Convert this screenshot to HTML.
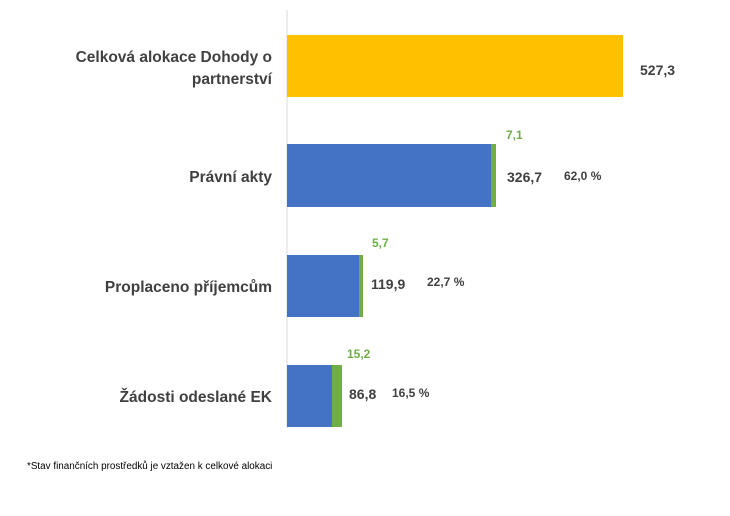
<!DOCTYPE html>
<html><head><meta charset="utf-8"><style>body{margin:0;background:#fff}</style></head><body>
<svg width="730" height="511" xmlns="http://www.w3.org/2000/svg" font-family="Liberation Sans, sans-serif" font-weight="bold">
<rect width="730" height="511" fill="#fff"/>
<line x1="287" y1="10" x2="287" y2="428" stroke="#d9d9d9" stroke-width="1"/>
<rect x="287" y="35" width="336" height="62" fill="#FFC000"/>
<rect x="287" y="144" width="204" height="63" fill="#4472C4"/>
<rect x="491" y="144" width="5" height="63" fill="#70AD47"/>
<rect x="287" y="255" width="72" height="62" fill="#4472C4"/>
<rect x="359" y="255" width="4" height="62" fill="#70AD47"/>
<rect x="287" y="365" width="45" height="62" fill="#4472C4"/>
<rect x="332" y="365" width="10" height="62" fill="#70AD47"/>
<g fill="#404040" font-size="15.5" text-anchor="end">
<text x="272" y="62">Celková alokace Dohody o</text>
<text x="272" y="84">partnerství</text>
<text x="272" y="182">Právní akty</text>
<text x="272" y="292">Proplaceno příjemcům</text>
<text x="272" y="402">Žádosti odeslané EK</text>
</g>
<g fill="#404040" font-size="14">
<text x="640" y="75">527,3</text>
<text x="507" y="182">326,7</text>
<text x="371" y="289">119,9</text>
<text x="349" y="399">86,8</text>
</g>
<g fill="#404040" font-size="12">
<text x="564" y="180">62,0 %</text>
<text x="427" y="286">22,7 %</text>
<text x="392" y="397">16,5 %</text>
</g>
<g fill="#70AD47" font-size="12">
<text x="506" y="139">7,1</text>
<text x="372" y="247">5,7</text>
<text x="347" y="358">15,2</text>
</g>
<text x="27" y="469" font-size="9.9" font-weight="normal" fill="#000">*Stav finančních prostředků je vztažen k celkové alokaci</text>
</svg>
</body></html>
